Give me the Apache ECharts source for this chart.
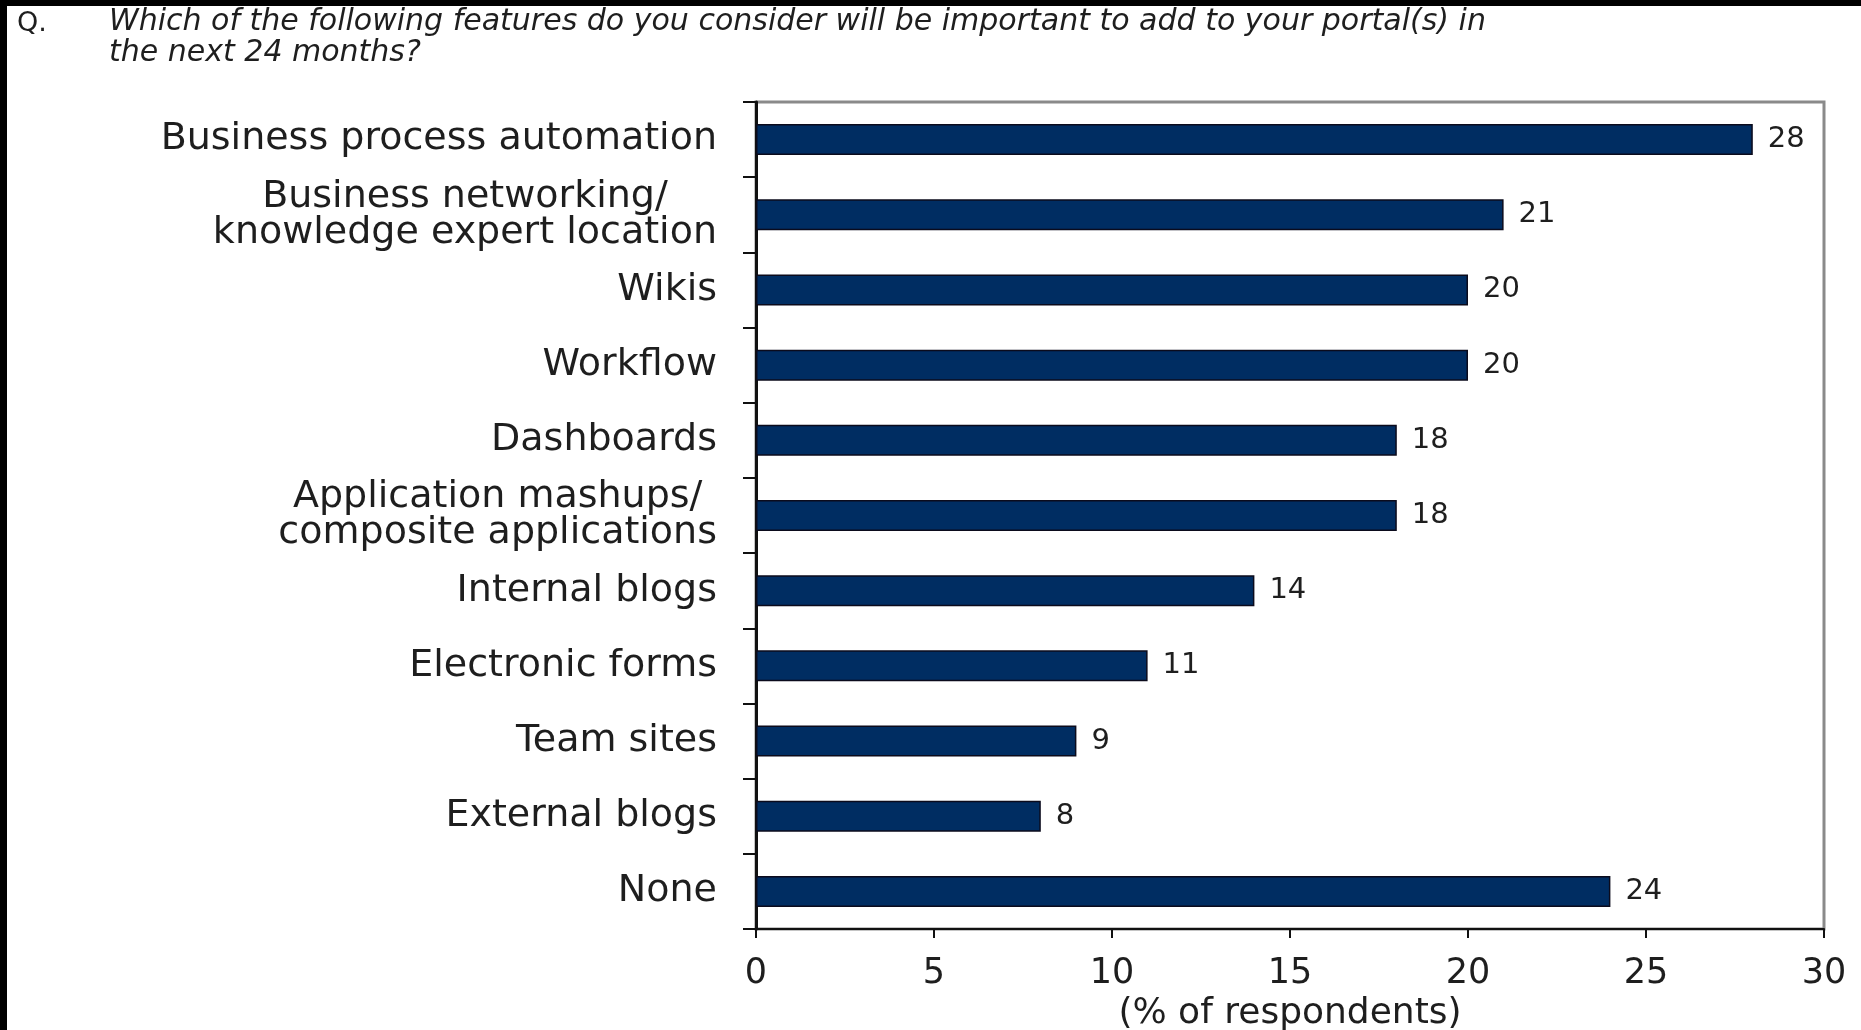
<!DOCTYPE html>
<html>
<head>
<meta charset="utf-8">
<script src="https://cdn.jsdelivr.net/npm/echarts@6/dist/echarts.min.js"></script>
<style>
html,body{margin:0;padding:0;background:#fff;}
#chart{width:1861px;height:1030px;}
</style>
</head>
<body>
<div id="chart"></div>
<script>
var questionMark = 'Q.';
var questionText = 'Which of the following features do you consider will be important to add to your portal(s) in\nthe next 24 months?';
var categories = [
  'Business process automation',
  'Business networking/\nknowledge expert location',
  'Wikis',
  'Workflow',
  'Dashboards',
  'Application mashups/\ncomposite applications',
  'Internal blogs',
  'Electronic forms',
  'Team sites',
  'External blogs',
  'None'
];
var values = [28, 21, 20, 20, 18, 18, 14, 11, 9, 8, 24];
var xTicks = [0, 5, 10, 15, 20, 25, 30];
var xAxisName = '(% of respondents)';

var chart = echarts.init(document.getElementById('chart'));
var txt = '#1e1e1e';
var font = 'DejaVu Sans';

chart.setOption({
  backgroundColor: '#ffffff',
  animation: false,
  title: [
    {
      text: questionMark, left: 12, top: 3,
      textStyle: {fontFamily: font, fontSize: 27, fontWeight: 'normal', color: txt, lineHeight: 31}
    },
    {
      text: questionText, left: 104, top: 2,
      textStyle: {fontFamily: font, fontSize: 30, fontStyle: 'italic', fontWeight: 'normal', color: txt, lineHeight: 31}
    }
  ],
  graphic: [
    {type: 'rect', left: 0, top: 0, shape: {width: 7, height: 1030}, style: {fill: '#000'}, z: 100},
    {type: 'rect', left: 0, top: 0, shape: {width: 1861, height: 6}, style: {fill: '#000'}, z: 100}
  ],
  grid: {
    left: 756, right: 37, top: 102, bottom: 101,
    outerBoundsMode: 'none', containLabel: false,
    show: true, borderColor: '#8a8a8a', borderWidth: 3, backgroundColor: '#fff'
  },
  xAxis: {
    type: 'value', min: xTicks[0], max: xTicks[xTicks.length - 1], interval: xTicks[1] - xTicks[0],
    name: xAxisName, nameLocation: 'middle', nameGap: 60,
    nameTextStyle: {fontFamily: font, fontSize: 36, color: txt},
    axisLine: {show: true, lineStyle: {color: '#111', width: 2}},
    axisTick: {show: true, inside: false, length: 9, lineStyle: {color: '#111', width: 2}},
    axisLabel: {fontFamily: font, fontSize: 35, color: txt, margin: 27},
    splitLine: {show: false}
  },
  yAxis: {
    type: 'category', data: categories, inverse: true,
    axisLine: {show: true, lineStyle: {color: '#111', width: 3}},
    axisTick: {show: true, inside: false, length: 13, lineStyle: {color: '#111', width: 2}},
    axisLabel: {
      margin: 39, align: 'right',
      formatter: function (v) {
        return v.split('\n').map(function (l) { return '{c|' + l + '}'; }).join('\n');
      },
      rich: {
        c: {fontFamily: font, fontSize: 38, lineHeight: 36, color: txt, align: 'center'}
      }
    },
    splitLine: {show: false}
  },
  series: [{
    type: 'bar',
    data: values,
    barWidth: 31,
    itemStyle: {color: '#002d62', borderColor: '#0b0b1c', borderWidth: 1.5},
    label: {
      show: true, position: 'right', distance: 15,
      fontFamily: font, fontSize: 29, color: txt
    }
  }]
});
</script>
</body>
</html>
